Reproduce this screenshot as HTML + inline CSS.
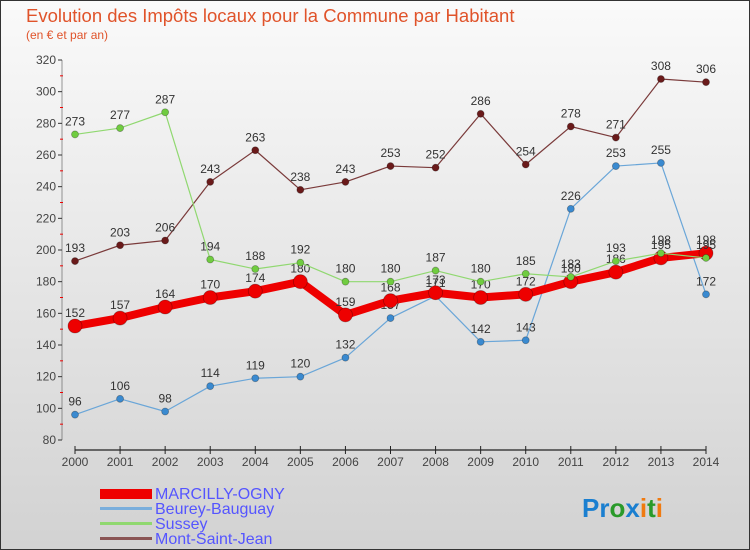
<!DOCTYPE html>
<html><head><meta charset="utf-8"><style>
body{margin:0;width:750px;height:550px;overflow:hidden;font-family:"Liberation Sans",sans-serif}
svg{display:block}
</style></head><body>
<svg width="750" height="550">
<defs><linearGradient id="bg" x1="0" y1="0" x2="0" y2="1"><stop offset="0" stop-color="#fafafa"/><stop offset="1" stop-color="#d2d2d2"/></linearGradient></defs>
<rect x="0.5" y="0.5" width="749" height="549" fill="url(#bg)" stroke="#333"/>
<text x="26" y="22" font-size="18.5" fill="#e0532a">Evolution des Impôts locaux pour la Commune par Habitant</text>
<text x="26" y="39" font-size="12" fill="#e0532a">(en € et par an)</text>
<g id="axes"></g><g id="series"></g>
<g font-size="16" fill="#5555ff">
<rect x="100" y="489" width="52" height="10" fill="#e00"/>
<text x="155" y="499">MARCILLY-OGNY</text>
<rect x="100" y="507" width="52" height="3" fill="#7aaedc"/>
<text x="155" y="514">Beurey-Bauguay</text>
<rect x="100" y="522" width="52" height="3" fill="#90d870"/>
<text x="155" y="529">Sussey</text>
<rect x="100" y="537" width="52" height="3" fill="#8a5555"/>
<text x="155" y="544">Mont-Saint-Jean</text>
</g>
<text x="582" y="517" font-size="26" font-weight="bold"><tspan fill="#1a7fd0">Pr</tspan><tspan fill="#2a9a2a">o</tspan><tspan fill="#1a7fd0">x</tspan><tspan fill="#f07a10">i</tspan><tspan fill="#2a9a2a">t</tspan><tspan fill="#f07a10">i</tspan></text>
</svg>
<script>
const years=[2000,2001,2002,2003,2004,2005,2006,2007,2008,2009,2010,2011,2012,2013,2014];
const yTicks=[80,100,120,140,160,180,200,220,240,260,280,300,320];
const marcilly=[152,157,164,170,174,180,159,168,173,170,172,180,186,195,198];
const beurey=[96,106,98,114,119,120,132,157,171,142,143,226,253,255,172];
const sussey=[273,277,287,194,188,192,180,180,187,180,185,183,193,198,195];
const mont=[193,203,206,243,263,238,243,253,252,286,254,278,271,308,306];
const NS="http://www.w3.org/2000/svg";
const X=i=>75+i*(706-75)/14;
const Y=v=>440-(v-80)*380/240;
function mk(t,a,p){const e=document.createElementNS(NS,t);for(const k in a)e.setAttribute(k,a[k]);p.appendChild(e);return e;}
const ax=document.getElementById('axes');
const ya=mk('line',{x1:62,x2:62,y1:Y(320),y2:Y(80),stroke:'#555','stroke-width':0.6},ax);


yTicks.forEach((v,k)=>{
 const t=mk('text',{x:56,y:Y(v)+4,'font-size':12,'text-anchor':'end',fill:'#444'},ax);
 t.textContent=v;
 
 
 const tk=mk('line',{x1:58,x2:62,y1:Y(v),y2:Y(v),stroke:'#333'},ax);
 
 
 if(k<yTicks.length-1){
  const mt=mk('line',{x1:60,x2:63,y1:Y(v+10),y2:Y(v+10),stroke:'#e00'},ax);
  
  
 }
});
const xa=mk('line',{x1:75,x2:706,y1:450,y2:450,stroke:'#222','stroke-width':1.3},ax);


years.forEach((y,i)=>{
 const tk=mk('line',{x1:X(i),x2:X(i),y1:446,y2:454,stroke:'#222'},ax);
 
 
 const t=mk('text',{x:X(i),y:466,'font-size':12,'text-anchor':'middle',fill:'#444'},ax);
 t.textContent=y;
 
 
});
const sg=document.getElementById('series');
function series(d,name,col,w,r,mcol){
 const g=mk('g',{},sg);
 
 
 const p=mk('polyline',{points:d.map((v,i)=>X(i)+','+Y(v)).join(' '),fill:'none',stroke:col,'stroke-width':w,'stroke-linejoin':'round'},g);
 
 
 d.forEach((v,i)=>{
  const c=mk('circle',{cx:X(i),cy:Y(v),r:r,fill:mcol,stroke:'rgba(0,0,0,0.3)','stroke-width':0.8},g);
  
  
  const t=mk('text',{x:X(i),y:Y(v)-9,'font-size':12,'text-anchor':'middle',fill:'#333'},g);
  t.textContent=v;
  
  
 });
}
series(mont,'mont-saint-jean','#7a3a3a',1.2,3.5,'#6a1a1a');
series(beurey,'beurey-bauguay','#6aa6d8',1.2,3.5,'#3a8ad0');
series(marcilly,'marcilly-ogny','#ee0000',8,7,'#ee0000');
series(sussey,'sussey','#90d870',1.2,3.5,'#70cc40');
</script>
</body></html>
